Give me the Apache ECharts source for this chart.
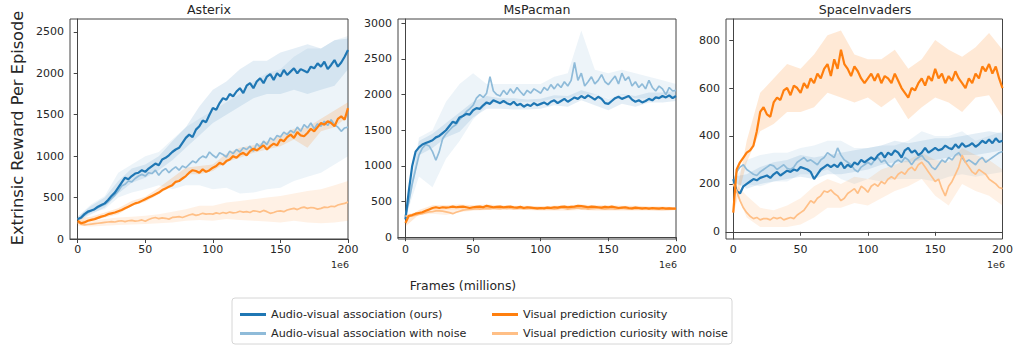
<!DOCTYPE html>
<html>
<head>
<meta charset="utf-8">
<script src="https://cdn.jsdelivr.net/npm/echarts@6/dist/echarts.min.js"></script>
<style>
html, body { margin: 0; padding: 0; background: #fff; }
#chart { width: 1016px; height: 347px; }
</style>
</head>
<body>
<div id="chart"></div>
<script>
// frames (millions), shared by every mean curve
var xs = [0, 2.5, 5, 7.5, 10, 12.5, 15, 17.5, 20, 22.5, 25, 27.5, 30, 32.5, 35, 37.5, 40, 42.5, 45, 47.5,
	50, 52.5, 55, 57.5, 60, 62.5, 65, 67.5, 70, 72.5, 75, 77.5, 80, 82.5, 85, 87.5, 90, 92.5, 95, 97.5,
	100, 102.5, 105, 107.5, 110, 112.5, 115, 117.5, 120, 122.5, 125, 127.5, 130, 132.5, 135, 137.5, 140, 142.5, 145, 147.5,
	150, 152.5, 155, 157.5, 160, 162.5, 165, 167.5, 170, 172.5, 175, 177.5, 180, 182.5, 185, 187.5, 190, 192.5, 195, 197.5, 200];
// frames for the shaded bands
var bx = [0, 10, 20, 30, 40, 50, 60, 70, 80, 90, 100, 110, 120, 130, 140, 150, 160, 170, 180, 190, 200];

var names = ['Audio-visual association (ours)', 'Audio-visual association with noise',
	'Visual prediction curiosity', 'Visual prediction curiosity with noise'];
var games = ['Asterix', 'MsPacman', 'SpaceInvaders'];
var xTicks = [0, 50, 100, 150, 200];
var yTicksAsterix = [0, 500, 1000, 1500, 2000, 2500];
var yTicksPacman = [0, 500, 1000, 1500, 2000, 2500, 3000];
var yTicksInvaders = [0, 200, 400, 600, 800];

//******************************** Asterix
var asterixAV = [240, 260, 300, 330, 345, 360, 390, 410, 430, 470,
	520, 560, 620, 680, 740, 720, 760, 790, 800, 830,
	810, 850, 880, 910, 890, 960, 980, 1010, 1050, 1080,
	1100, 1160, 1220, 1260, 1230, 1320, 1360, 1430, 1410, 1500,
	1580, 1560, 1640, 1700, 1680, 1750, 1720, 1780, 1820, 1760,
	1850, 1880, 1820, 1900, 1940, 1880, 1960, 1990, 1920, 2000,
	1960, 2040, 1980, 2020, 2060, 2000, 2050, 2030, 2010, 2080,
	2060, 2120, 2080, 2140, 2050, 2100, 2160, 2080, 2130, 2200,
	2280];
var asterixAVNoise = [240, 250, 290, 320, 340, 360, 380, 400, 420, 450,
	490, 530, 580, 640, 660, 700, 690, 730, 760, 780,
	760, 800, 790, 830, 770, 820, 850, 800, 840, 870,
	830, 880, 860, 900, 940, 920, 970, 1000, 980, 1050,
	1010, 980, 1040, 1020, 990, 1060, 1030, 1080, 1050, 1100,
	1080, 1120, 1060, 1150, 1110, 1180, 1140, 1220, 1190, 1250,
	1230, 1290, 1260, 1310, 1280, 1350, 1300, 1380, 1340, 1400,
	1330, 1390, 1360, 1420, 1370, 1440, 1380, 1350, 1300, 1340,
	1350];
var asterixVP = [220, 190, 200, 220, 230, 240, 255, 270, 280, 300,
	310, 320, 335, 350, 370, 390, 410, 430, 440, 460,
	480, 500, 520, 540, 560, 590, 610, 630, 650, 690,
	700, 730, 760, 800, 830, 820, 800, 840, 810, 830,
	860, 880, 920, 900, 940, 960, 1000, 980, 1020, 1040,
	1010, 1060, 1090, 1070, 1100, 1130, 1080, 1120, 1150, 1130,
	1200, 1180, 1230, 1260, 1220, 1290, 1250, 1240, 1280, 1330,
	1300, 1350, 1400, 1380, 1420, 1400, 1360, 1450, 1480, 1440,
	1580];
var asterixVPNoise = [200, 180, 170, 175, 180, 185, 190, 195, 200, 205,
	210, 205, 215, 220, 210, 220, 225, 215, 220, 230,
	215, 235, 250, 260, 245, 255, 250, 240, 260, 265,
	270, 260, 275, 290, 300, 285, 295, 310, 300, 305,
	300, 315, 305, 320, 310, 325, 315, 320, 335, 325,
	330, 320, 340, 335, 325, 345, 330, 310, 320, 335,
	340, 330, 350, 360, 370, 355, 375, 385, 370, 380,
	375, 360, 370, 385, 380, 395, 390, 410, 420, 430,
	445];
var asterixAVHi = [270, 400, 500, 700, 850, 900, 1000, 1180, 1350, 1600, 1800, 1900, 2050, 2150, 2150, 2250, 2300, 2350, 2300, 2400, 2420];
var asterixAVLo = [210, 300, 380, 550, 680, 740, 830, 950, 1100, 1250, 1400, 1500, 1600, 1700, 1750, 1750, 1800, 1750, 1800, 1850, 2050];
var asterixAVNoiseHi = [270, 420, 520, 800, 900, 1000, 1050, 1200, 1350, 1450, 1550, 1650, 1750, 1900, 2000, 2050, 2200, 2300, 2300, 2400, 2450];
var asterixAVNoiseLo = [210, 320, 360, 500, 560, 600, 650, 600, 650, 650, 600, 620, 550, 560, 600, 620, 700, 750, 800, 900, 1000];
var asterixVPHi = [250, 270, 320, 370, 460, 510, 620, 740, 860, 880, 900, 1030, 1100, 1130, 1180, 1250, 1330, 1350, 1450, 1550, 1650];
var asterixVPLo = [180, 220, 260, 300, 400, 450, 540, 650, 780, 780, 820, 930, 980, 1040, 1080, 1120, 1200, 1100, 1300, 1350, 1480];
var asterixVPNoiseHi = [230, 220, 240, 260, 270, 280, 300, 330, 360, 400, 400, 440, 460, 480, 500, 520, 550, 580, 600, 650, 700];
var asterixVPNoiseLo = [160, 150, 160, 170, 175, 180, 190, 200, 220, 230, 220, 240, 230, 220, 210, 200, 220, 200, 190, 200, 220];

//******************************** MsPacman
var pacmanAV = [250, 650, 1000, 1200, 1260, 1300, 1320, 1340, 1360, 1400,
	1420, 1460, 1500, 1560, 1620, 1600, 1680, 1700, 1730, 1720,
	1780, 1810, 1800, 1850, 1890, 1870, 1920, 1900, 1880, 1910,
	1880, 1860, 1900, 1850, 1870, 1830, 1860, 1840, 1880, 1850,
	1870, 1890, 1860, 1900, 1920, 1880, 1910, 1940, 1900, 1930,
	1960, 1940, 1980, 1950, 1990, 1960, 1930, 1970, 1940, 1880,
	1870, 1910, 1950, 1970, 1940, 1960, 1980, 1930, 1900, 1920,
	1890, 1910, 1940, 1920, 1960, 1950, 1980, 1960, 1990, 1950,
	1980];
var pacmanAVNoise = [300, 500, 750, 950, 1150, 1250, 1300, 1280, 1200, 1080,
	1200, 1380, 1450, 1500, 1550, 1580, 1650, 1700, 1760, 1800,
	1850, 1950, 2000, 1960, 2020, 2250, 2050, 2000, 1980, 2060,
	2000, 2080, 2020, 2100, 2040, 1990, 2060, 2020, 2080, 2050,
	2020, 2100, 2060, 2140, 2080, 2150, 2100, 2180, 2120, 2200,
	2450, 2200, 2300, 2120, 2180, 2250, 2150, 2200, 2280, 2180,
	2140, 2200, 2260, 2150, 2300, 2200, 2250, 2120, 2180, 2100,
	2150, 2080, 2200, 2100, 2050, 2120, 2080, 2000, 2100, 2050,
	2060];
var pacmanVP = [200, 300, 310, 330, 340, 350, 370, 390, 410, 420,
	410, 420, 415, 420, 430, 420, 425, 430, 420, 410,
	420, 425, 430, 420, 440, 430, 420, 425, 430, 420,
	425, 430, 420, 415, 425, 410, 420, 415, 410, 405,
	410, 405, 415, 410, 420, 415, 425, 430, 420, 425,
	430, 440, 435, 430, 420, 430, 425, 420, 415, 425,
	420, 430, 420, 410, 415, 420, 410, 405, 415, 410,
	405, 410, 400, 410, 405, 400, 410, 400, 405, 400,
	400];
var pacmanVPNoise = [300, 290, 300, 310, 320, 330, 345, 355, 360, 370,
	370, 365, 355, 345, 330, 350, 365, 380, 385, 390,
	395, 400, 395, 400, 405, 400, 410, 405, 400, 410,
	405, 410, 400, 405, 410, 400, 405, 410, 400, 405,
	400, 410, 405, 400, 395, 400, 410, 405, 395, 400,
	405, 410, 400, 405, 395, 400, 405, 410, 400, 395,
	400, 405, 395, 400, 410, 405, 395, 400, 405, 400,
	395, 400, 405, 395, 400, 405, 395, 400, 405, 400,
	400];
var pacmanAVHi = [300, 1350, 1450, 1600, 1750, 1900, 1980, 1950, 1950, 1930, 1940, 1990, 1980, 2060, 2010, 1940, 2010, 1980, 2030, 2030, 2050];
var pacmanAVLo = [200, 1150, 1250, 1400, 1480, 1680, 1800, 1800, 1790, 1790, 1800, 1850, 1830, 1920, 1850, 1780, 1870, 1830, 1890, 1890, 1910];
var pacmanAVNoiseHi = [330, 1400, 1500, 1900, 2150, 2300, 2150, 2150, 2150, 2150, 2150, 2250, 2300, 2900, 2350, 2300, 2350, 2300, 2250, 2200, 2150];
var pacmanAVNoiseLo = [270, 850, 700, 1100, 1350, 1650, 1850, 1900, 1900, 1900, 1900, 1950, 1950, 2000, 2000, 1950, 2000, 1950, 1950, 1950, 1950];
var pacmanVPHi = [250, 380, 450, 450, 460, 450, 460, 450, 440, 440, 430, 440, 450, 460, 450, 450, 440, 440, 430, 430, 420];
var pacmanVPLo = [150, 320, 380, 390, 390, 390, 390, 390, 390, 380, 380, 390, 400, 400, 390, 380, 380, 380, 380, 370, 380];
var pacmanVPNoiseHi = [320, 360, 400, 400, 410, 420, 430, 430, 430, 430, 430, 440, 430, 440, 430, 430, 430, 430, 420, 420, 420];
var pacmanVPNoiseLo = [280, 310, 330, 310, 350, 370, 380, 380, 380, 380, 370, 370, 370, 380, 370, 370, 370, 370, 370, 370, 380];

//******************************** SpaceInvaders
var invadersAV = [220, 170, 160, 190, 200, 210, 220, 215, 225, 230,
	235, 225, 240, 250, 235, 245, 255, 250, 260, 255,
	270, 265, 260, 250, 220, 240, 260, 270, 280, 270,
	280, 270, 290, 265, 280, 270, 290, 280, 300, 290,
	300, 310, 300, 320, 330, 310, 330, 320, 340, 330,
	310, 340, 350, 330, 340, 320, 330, 350, 330, 340,
	350, 340, 345, 360, 350, 345, 365, 350, 370, 355,
	360, 370, 355, 365, 380, 370, 385, 370, 390, 375,
	380];
var invadersAVNoise = [200, 250, 270, 280, 260, 250, 240, 235, 250, 260,
	270, 280, 275, 260, 270, 280, 265, 260, 270, 290,
	300, 310, 295, 300, 290, 280, 300, 310, 330, 320,
	310, 350, 320, 300, 290, 280, 260, 250, 270, 280,
	290, 280, 300, 310, 290, 300, 280, 270, 290, 300,
	290, 310, 300, 280, 300, 310, 320, 300, 290, 270,
	260, 280, 300, 290, 310, 300, 320, 330, 310, 290,
	300, 290, 280, 300, 310, 290, 300, 310, 320, 330,
	335];
var invadersVP = [80, 260, 290, 310, 330, 340, 360, 420, 500, 520,
	490, 480, 540, 560, 550, 590, 600, 570, 610, 600,
	580, 620, 600, 640, 620, 660, 640, 680, 700, 650,
	720, 680, 760, 700, 680, 650, 690, 670, 640, 620,
	640, 660, 630, 660, 620, 650, 640, 620, 660, 630,
	600, 580, 560, 600, 590, 620, 640, 610, 650, 630,
	680, 640, 660, 620, 650, 630, 670, 640, 620, 600,
	640, 620, 660, 640, 690, 670, 700, 660, 690, 640,
	600];
var invadersVPNoise = [200, 170, 130, 100, 80, 65, 55, 60, 50, 55,
	55, 50, 60, 55, 60, 50, 55, 60, 55, 70,
	80, 90, 110, 130, 120, 140, 150, 170, 165, 175,
	160, 150, 130, 140, 160, 170, 180, 160, 190, 180,
	165, 190, 200, 190, 210, 200, 220, 230, 220, 240,
	250, 240, 260, 270, 255, 280, 290, 270, 250, 230,
	210, 220, 180, 150, 190, 210, 240, 270, 320, 290,
	270, 250, 240, 260, 250, 240, 220, 210, 200, 185,
	180];
var invadersAVHi = [230, 240, 270, 290, 300, 320, 310, 320, 330, 340, 350, 360, 380, 370, 380, 390, 390, 400, 410, 420, 410];
var invadersAVLo = [210, 180, 200, 210, 220, 230, 220, 240, 240, 250, 260, 280, 290, 290, 300, 300, 310, 320, 320, 330, 340];
var invadersAVNoiseHi = [210, 300, 320, 330, 330, 350, 360, 380, 380, 350, 350, 360, 360, 380, 420, 400, 400, 420, 380, 400, 420];
var invadersAVNoiseLo = [190, 200, 190, 210, 210, 240, 240, 260, 220, 200, 220, 210, 220, 220, 220, 210, 230, 240, 230, 240, 250];
var invadersVPHi = [90, 380, 580, 640, 700, 680, 740, 820, 840, 740, 720, 720, 760, 680, 720, 800, 760, 730, 770, 830, 760];
var invadersVPLo = [70, 290, 420, 450, 500, 500, 520, 580, 560, 540, 560, 520, 560, 470, 520, 560, 540, 500, 560, 570, 480];
var invadersVPNoiseHi = [210, 150, 100, 90, 110, 140, 190, 220, 200, 230, 220, 260, 280, 300, 330, 300, 290, 350, 320, 300, 260];
var invadersVPNoiseLo = [190, 60, 20, 20, 20, 30, 60, 100, 100, 120, 110, 140, 170, 190, 220, 150, 110, 200, 170, 150, 110];

var lineColors = ['#1f77b4', '#8fbbd9', '#ff7f0e', '#ffbf86'];
var bandColors = ['rgba(31,119,180,0.12)', 'rgba(31,119,180,0.08)', 'rgba(255,127,14,0.17)', 'rgba(255,127,14,0.11)'];
var lineWidths = [2.2, 1.7, 2.2, 1.7];
var lineZ = [4, 3, 6, 5];
var font = 'DejaVu Sans';

var panels = [
	{ left: 70, xMin: -5.7, yMin: 0, yMax: 2655, yTicks: yTicksAsterix,
		means: [asterixAV, asterixAVNoise, asterixVP, asterixVPNoise],
		his: [asterixAVHi, asterixAVNoiseHi, asterixVPHi, asterixVPNoiseHi],
		los: [asterixAVLo, asterixAVNoiseLo, asterixVPLo, asterixVPNoiseLo] },
	{ left: 398, xMin: -5.5, yMin: -25, yMax: 3060, yTicks: yTicksPacman,
		means: [pacmanAV, pacmanAVNoise, pacmanVP, pacmanVPNoise],
		his: [pacmanAVHi, pacmanAVNoiseHi, pacmanVPHi, pacmanVPNoiseHi],
		los: [pacmanAVLo, pacmanAVNoiseLo, pacmanVPLo, pacmanVPNoiseLo] },
	{ left: 726, xMin: -5.4, yMin: -30, yMax: 888, yTicks: yTicksInvaders,
		means: [invadersAV, invadersAVNoise, invadersVP, invadersVPNoise],
		his: [invadersAVHi, invadersAVNoiseHi, invadersVPHi, invadersVPNoiseHi],
		los: [invadersAVLo, invadersAVNoiseLo, invadersVPLo, invadersVPNoiseLo] }
];

var myChart = echarts.init(document.getElementById('chart'), null, { renderer: 'svg' });

function pairs(x, y) {
	var out = [];
	for (var i = 0; i < x.length; i++) {
		out.push([x[i], y[i]]);
	}
	return out;
}

function bandSeries(k, hi, lo, color) {
	return {
		type: 'custom',
		xAxisIndex: k,
		yAxisIndex: k,
		silent: true,
		z: 1,
		data: [[100, 0]],
		renderItem: function (params, api) {
			var pts = [];
			for (var i = 0; i < bx.length; i++) {
				pts.push(api.coord([bx[i], hi[i]]));
			}
			for (var j = bx.length - 1; j >= 0; j--) {
				pts.push(api.coord([bx[j], lo[j]]));
			}
			return { type: 'polygon', shape: { points: pts }, style: { fill: color, stroke: null } };
		}
	};
}

function axisCommon(ticks) {
	return {
		axisLine: { show: true, lineStyle: { color: '#444', width: 1 } },
		axisTick: { show: true, length: 4, customValues: ticks, lineStyle: { color: '#444' } },
		axisLabel: {
			customValues: ticks, fontSize: 11, color: '#262626', fontFamily: font,
			formatter: function (v) { return String(v); }
		},
		splitLine: { show: false }
	};
}

var grids = [], xAxes = [], yAxes = [], series = [], graphics = [];

panels.forEach(function (p, k) {
	grids.push({ left: p.left, top: 19, width: 278, height: 220, show: true, borderColor: '#444', borderWidth: 1 });

	var xa = axisCommon(xTicks);
	xa.type = 'value'; xa.gridIndex = k; xa.min = p.xMin; xa.max = 200;
	xa.axisLabel.margin = 5;
	xAxes.push(xa);

	var ya = axisCommon(p.yTicks);
	ya.type = 'value'; ya.gridIndex = k; ya.min = p.yMin; ya.max = p.yMax;
	ya.axisLabel.margin = 6;
	yAxes.push(ya);

	for (var s = 0; s < 4; s++) {
		series.push(bandSeries(k, p.his[s], p.los[s], bandColors[s]));
	}
	for (var s2 = 0; s2 < 4; s2++) {
		series.push({
			type: 'line',
			name: names[s2],
			xAxisIndex: k,
			yAxisIndex: k,
			data: pairs(xs, p.means[s2]),
			symbol: 'none',
			showSymbol: false,
			z: lineZ[s2],
			itemStyle: { color: lineColors[s2] },
			lineStyle: { color: lineColors[s2], width: lineWidths[s2] }
		});
	}

	graphics.push({
		type: 'text', x: p.left + 139, y: 9,
		style: { text: games[k], font: '12.6px "' + font + '"', fill: '#262626', align: 'center', verticalAlign: 'middle' }
	});
	graphics.push({
		type: 'text', x: p.left + 279, y: 264,
		style: { text: '1e6', font: '9.5px "' + font + '"', fill: '#262626', align: 'right', verticalAlign: 'middle' }
	});
});

graphics.push({
	type: 'text', x: 17, y: 128, rotation: Math.PI / 2,
	style: { text: 'Extrinsic Reward Per Episode', font: '16.2px "' + font + '"', fill: '#262626', align: 'center', verticalAlign: 'middle' }
});
graphics.push({
	type: 'text', x: 463, y: 285,
	style: { text: 'Frames (millions)', font: '12.4px "' + font + '"', fill: '#262626', align: 'center', verticalAlign: 'middle' }
});
graphics.push({
	type: 'rect', x: 232, y: 298, z: -10,
	shape: { width: 500, height: 46, r: 3 },
	style: { fill: '#fff', stroke: '#d6d6d6', lineWidth: 1 }
});

var legendText = { fontSize: 11.2, color: '#262626', fontFamily: font };

var option = {
	animation: false,
	backgroundColor: '#fff',
	grid: grids,
	xAxis: xAxes,
	yAxis: yAxes,
	legend: [
		{ orient: 'vertical', left: 235, top: 304, icon: 'rect', itemWidth: 26, itemHeight: 3, itemGap: 8,
			data: [names[0], names[1]], textStyle: legendText },
		{ orient: 'vertical', left: 487, top: 304, icon: 'rect', itemWidth: 26, itemHeight: 3, itemGap: 8,
			data: [names[2], names[3]], textStyle: legendText }
	],
	graphic: graphics,
	series: series
};

myChart.setOption(option);
</script>
</body>
</html>
